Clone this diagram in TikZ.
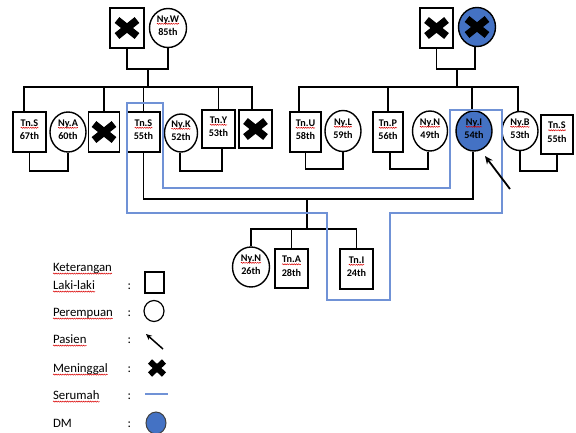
\documentclass[tikz,border=0pt]{standalone}
\usepackage{fontspec}
\setmainfont{Carlito}
\usetikzlibrary{shapes.geometric,arrows.meta,decorations.pathmorphing}
\definecolor{dmblue}{RGB}{68,114,196}
\definecolor{homeblue}{RGB}{112,146,214}
\tikzset{
  male/.style={draw, line width=1.4pt, minimum width=33pt, minimum height=40pt, inner sep=0pt},
  female/.style={ellipse, draw, line width=1.4pt, minimum width=36pt, minimum height=40pt, inner sep=0pt},
  dm/.style={female, fill=dmblue},
  ntext/.style={anchor=base, inner sep=0pt, outer sep=0pt, font=\fontsize{10.2}{12}\selectfont\bfseries},
  ltext/.style={anchor=base west, inner sep=0pt, outer sep=0pt, font=\fontsize{12.8}{15}\selectfont},
  squig/.style={draw=red!85!black, line width=0.5pt, decorate, decoration={snake, amplitude=0.55pt, segment length=2.3pt}},
  kin/.style={line width=1.8pt},
  home/.style={draw=homeblue, line width=1.1pt},
  deadx/.pic={\draw[line width=7.5pt] (-10,-8)--(10,8) (-10,8)--(10,-8);},
  deadxs/.pic={\draw[line width=6pt] (-7,-6.5)--(7,6.5) (-7,6.5)--(7,-6.5);}
}
% style, name, x, y, first line, second line
\newcommand\pers[6]{%
  \node[#1] (#2) at (#3,#4) {};
  \node[ntext] (#2a) at (#3,#4-6) {#5};
  \node[ntext] (#2b) at (#3,#4+7.5) {#6};
  \draw[squig] ([yshift=-1.8pt]#2a.base west) -- ([yshift=-1.8pt]#2a.base east);}
% name, baseline y, text
\newcommand\lgtext[3]{%
  \node[ltext] (#1) at (53,#2) {#3};
  \draw[squig] ([yshift=-2.6pt]#1.base west) -- ([yshift=-2.6pt]#1.base east);
  \node[ltext] (#1c) at (127.5,#2) {:};}
\begin{document}
\begin{tikzpicture}[x=1pt,y=-1pt]
\useasboundingbox (0,0) rectangle (576,432);

% ---------- left grandparents ----------
\node[male, minimum width=34pt] (gfL) at (127,28) {};
\pic at (gfL) {deadx};
\pers{female, minimum width=37pt, minimum height=39pt}{gmL}{168}{28}{Ny.W}{85th}

% ---------- left row ----------
\pers{male}{tnsA}{29.5}{132}{Tn.S}{67th}
\pers{female}{nyA}{68}{132}{Ny.A}{60th}
\node[male, minimum width=31pt] (xA) at (104,132) {};
\pic at (xA) {deadx};
\pers{male}{tnsB}{143.5}{132}{Tn.S}{55th}
\pers{female, minimum width=33pt, minimum height=38pt}{nyK}{181}{133}{Ny.K}{52th}
\pers{male, minimum height=38pt}{tnY}{218.5}{129}{Tn.Y}{53th}
\node[male, minimum height=38pt] (xB) at (255.5,129) {};
\pic at (xB) {deadx};

% ---------- right grandparents ----------
\node[male] (gfR) at (436.5,28) {};
\pic at (gfR) {deadx};
\node[dm, minimum width=37pt, minimum height=39pt] (gmR) at (477,27) {};
\pic at (gmR) {deadx};

% ---------- right row ----------
\pers{male, minimum width=31pt}{tnU}{305.5}{132}{Tn.U}{58th}
\pers{female, minimum height=41pt}{nyL}{343}{131}{Ny.L}{59th}
\pers{male, minimum width=30pt}{tnP}{388}{132}{Tn.P}{56th}
\pers{female, minimum width=35pt}{nyN}{430}{131}{Ny.N}{49th}
\pers{dm}{nyI}{474}{131}{Ny.I}{54th}
\pers{female, minimum height=39pt}{nyB}{520}{131}{Ny.B}{53th}
\pers{male, minimum width=32pt, minimum height=39pt}{tnSR}{557}{134.5}{Tn.S}{55th}

% ---------- children ----------
\pers{female, minimum width=37pt}{nyNc}{251}{267}{Ny.N}{26th}
\pers{male, minimum height=39pt}{tnA}{291.5}{268.5}{Tn.A}{28th}
\pers{male}{tnI}{356.5}{269}{Tn.I}{24th}

% ---------- kinship lines ----------
\draw[kin] (gfL.south) -- ++(0,20) -| (gmL.south);
\coordinate (cL) at (148,68);
\draw[kin] (cL) -- ++(0,20);
\draw[kin] ([xshift=-5.5pt]tnsA.north) -- ++(0,-24) -| ([xshift=-3.5pt]xB.north);
\draw[kin] (xA.north) -- ++(0,-24);
\draw[kin] (tnsB.north) -- ++(0,-24);
\draw[kin] (tnY.north) -- ++(0,-22);
\draw[kin] (tnsA.south) -- ++(0,18) -| (nyA.south);
\draw[kin] ([xshift=-1pt]nyK.south) -- ++(0,18) -| ([xshift=3.5pt]tnY.south);

\draw[kin] (gfR.south) -- ++(0,20) -| ([xshift=-2pt]gmR.south);
\coordinate (cR) at (457,68);
\draw[kin] (cR) -- ++(0,20);
\draw[kin] ([xshift=-6.5pt]tnU.north) -- ++(0,-24) -| ([xshift=-2pt]nyB.north);
\draw[kin] (tnP.north) -- ++(0,-24);
\draw[kin] ([xshift=-2pt]nyI.north) -- ++(0,-23);
\draw[kin] (tnU.south) -- ++(0,16) -| (nyL.south);
\draw[kin] ([xshift=2pt]tnP.south) -- ++(0,16) -| ([xshift=-2pt]nyN.south);
\draw[kin] (nyB.south) -- ++(0,20) -| (tnSR.south);

\draw[kin] (tnsB.south) -- ++(0,46) -| ([xshift=-1pt]nyI.south);
\coordinate (cD) at (307,198);
\draw[kin] (cD) -- ++(0,31) coordinate (cB);
\draw[kin] (nyNc.north) |- (cB) -| (tnI.north);
\draw[kin] (tnA.north) -- ++(0,-20);

% ---------- household (serumah) ----------
\draw[home] (127,213) -- (127,103) -- (163,103) -- (163,188) -- (450,188) -- (450,110)
  -- (502,110) -- (502,213) -- (390,213) -- (390,300) -- (327,300) -- (327,213) -- cycle;

% ---------- patient arrow ----------
\coordinate (pA) at (510,189);
\coordinate (pB) at (485,156);
\draw[kin, -{Stealth[length=8pt,width=7pt]}] (pA) -- (pB);

% ---------- legend ----------
\node[ltext] (ket) at (53,271) {Keterangan};
\draw[squig] ([yshift=-2.6pt]ket.base west) -- ([yshift=-2.6pt]ket.base east);
\lgtext{lgA}{289}{Laki-laki}
\lgtext{lgB}{316}{Perempuan}
\lgtext{lgC}{343}{Pasien}
\lgtext{lgD}{372}{Meninggal}
\lgtext{lgE}{399}{Serumah}
\node[ltext] (lgF) at (53,427) {DM};
\node[ltext] (lgFc) at (127.5,427) {:};

\node[draw, line width=1.2pt, minimum width=19pt, minimum height=21pt, inner sep=0pt] (symM) at (154.5,282.5) {};
\node[ellipse, draw, line width=1.2pt, minimum width=20pt, minimum height=21pt, inner sep=0pt] (symF) at (154,311) {};
\coordinate (symPa) at (163,349);
\coordinate (symPb) at (146,334);
\draw[line width=1.5pt, -{Stealth[length=6pt,width=5.5pt]}] (symPa) -- (symPb);
\pic at (157,368) {deadxs};
\coordinate (symHa) at (145,394);
\coordinate (symHb) at (168,394);
\draw[home] (symHa) -- (symHb);
\node[ellipse, draw=black!75, line width=1pt, fill=dmblue, minimum width=20pt, minimum height=22pt, inner sep=0pt] (symD) at (156,423) {};
\end{tikzpicture}
\end{document}
